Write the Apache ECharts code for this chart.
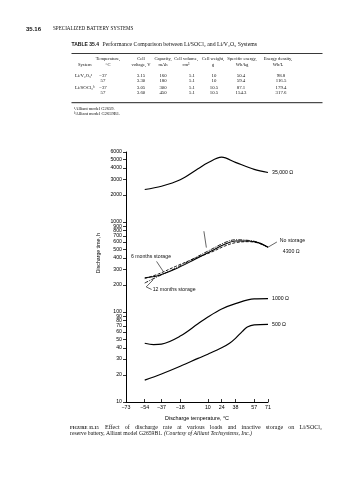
<!DOCTYPE html>
<html><head><meta charset="utf-8">
<script src="https://cdn.jsdelivr.net/npm/echarts@6/dist/echarts.min.js"></script>
<style>html,body{margin:0;padding:0;background:#fff;}#c{width:358px;height:480px;}</style>
</head><body><div id="c"></div>
<script>
// ---------- data ----------
const xTickLabels = [-73, -54, -37, -18, 10, 24, 38, 57, 71];
const yTickLabels = [10,20,30,40,50,60,70,80,90,100,200,300,400,500,600,700,800,900,1000,2000,3000,4000,5000,6000];

const temps35k = [-54, -37, -18, 0, 10, 24, 38, 57, 71];
const hours35k = [2300, 2500, 2950, 3900, 4550, 5250, 4600, 3850, 3550];
const temps1000 = [-54, -45, -37, -18, 0, 10, 24, 38, 57, 71];
const hours1000 = [45, 43.5, 44, 54, 74, 88, 108, 124, 140, 141];
const temps500 = [-54, -37, -18, 0, 10, 24, 32, 38, 45, 50, 57, 71];
const hours500 = [17.5, 20.5, 25, 30.5, 34, 40, 45, 51, 61, 68, 72, 73];
const tempsCluster = [-54, -40, -23, -3, 14, 27, 38, 51, 61, 71];
const hoursNoStorage = [240, 255, 300, 385, 480, 565, 615, 615, 590, 525];
const hours6Months = [235, 265, 320, 395, 465, 540, 590, 605, 585, 525];
const hours12Months = [210, 250, 305, 400, 500, 590, 635, 625, 595, 525];

const curveNames = ['35,000 Ω', '1000 Ω', '500 Ω', 'No storage', '6 months storage', '12 months storage'];

// table
const headerLine1 = ['', 'Temperature,', 'Cell', 'Capacity,', 'Cell volume,', 'Cell weight,', 'Specific energy,', 'Energy density,'];
const headerLine2 = ['System', '°C', 'voltage, V', 'mAh', 'cm³', 'g', 'Wh/kg', 'Wh/L'];
const tableSystems = ['Li/V₂O₅ᵃ', '', 'Li/SOCl₂ᵇ', ''];
const tableTemps = ['−37', '57', '−37', '57'];
const tableVoltage = ['3.15', '3.30', '3.05', '3.60'];
const tableCapacity = [160, 180, 300, 450];
const tableVolume = ['5.1', '5.1', '5.1', '5.1'];
const tableWeight = ['10', '10', '10.5', '10.5'];
const tableSpecEnergy = ['50.4', '59.4', '87.1', '154.3'];
const tableEnergyDensity = ['98.8', '116.5', '179.4', '317.6'];
const footnotes = ['ᵃAlliant model G2659.', 'ᵇAlliant model G2659B1.'];

// annotation anchors (data space)
const annoLeaders = [
  [[-42, 365], [-35, 280]],
  [[-45.5, 228], [-52.5, 190]],
  [[-52.5, 190], [-47, 178]],
  [[6, 790], [8.5, 520]],
  [[71, 525], [80, 600]]
];
const annoTexts = [
  {at: [-68, 412], text: '6 months storage'},
  {at: [-46, 177], text: '12 months storage'},
  {at: [83, 621], text: 'No storage'},
  {at: [86, 468], text: '4300 Ω'}
];

// ---------- chart ----------
const SANS = 'Liberation Sans, Arial, sans-serif';
const SERIF = 'Liberation Serif, Times New Roman, serif';
const zip = (xs, ys) => xs.map((x, i) => [x, ys[i]]);
const chart = echarts.init(document.getElementById('c'), null, {renderer: 'canvas'});

function curve(name, xs, ys, opts) {
  return Object.assign({
    name, type: 'line', data: zip(xs, ys), smooth: 0.35,
    symbol: 'none', clip: false, animation: false,
    lineStyle: {color: '#000', width: 1.2}
  }, opts || {});
}
const endLbl = (txt) => ({show: true, formatter: txt, distance: 4, fontSize: 5.2, fontFamily: SANS, color: '#000'});

const option = {
  animation: false,
  backgroundColor: '#fff',
  grid: {left: 126, right: 90, top: 152, bottom: 78, containLabel: false, outerBoundsMode: 'none'},
  xAxis: {
    type: 'value', min: -73, max: 71,
    splitLine: {show: false},
    axisLine: {onZero: false, lineStyle: {color: '#000', width: 1}},
    axisTick: {inside: true, length: 3, customValues: xTickLabels, lineStyle: {color: '#000', width: 0.8}},
    axisLabel: {customValues: xTickLabels, formatter: v => String(v).replace('-', '−'), fontSize: 5.3, fontFamily: SANS, color: '#000', margin: 3},
    name: 'Discharge temperature, °C', nameLocation: 'middle', nameGap: 14,
    nameTextStyle: {fontSize: 5.4, fontFamily: SANS, color: '#000'}
  },
  yAxis: {
    type: 'log', logBase: 10, min: 10, max: 6000,
    splitLine: {show: false},
    axisLine: {onZero: false, lineStyle: {color: '#000', width: 1}},
    axisTick: {length: 3, customValues: yTickLabels, lineStyle: {color: '#000', width: 0.8}},
    axisLabel: {customValues: yTickLabels, formatter: v => String(Math.round(v)), fontSize: 5.2, fontFamily: SANS, color: '#000', margin: 4},
    name: 'Discharge time, h', nameLocation: 'middle', nameGap: 25, nameRotate: 90,
    nameTextStyle: {fontSize: 5.2, fontFamily: SANS, color: '#000', padding: [0, 0, 0, 48]}
  },
  series: [
    curve(curveNames[0], temps35k, hours35k, {endLabel: endLbl('35,000 Ω')}),
    curve(curveNames[1], temps1000, hours1000, {endLabel: endLbl('1000 Ω')}),
    curve(curveNames[2], temps500, hours500, {endLabel: endLbl('500 Ω')}),
    curve(curveNames[3], tempsCluster, hoursNoStorage, {lineStyle: {color: '#000', width: 1.1}}),
    curve(curveNames[4], tempsCluster, hours6Months, {lineStyle: {color: '#000', width: 0.9, type: [3, 1.5]}}),
    curve(curveNames[5], tempsCluster, hours12Months, {lineStyle: {color: '#000', width: 0.9, type: [4, 1.2, 1, 1.2]}})
  ]
};
chart.setOption(option);

// ---------- page text & annotations ----------
const g = [];
function txt(x, y, text, o) {
  o = o || {};
  g.push({type: 'text', x, y, silent: true, style: {
    text, fill: '#111', fontSize: o.size || 5, fontFamily: o.family || SERIF,
    fontWeight: o.weight || 'normal', fontStyle: o.style || 'normal',
    align: o.align || 'left', verticalAlign: 'middle'
  }});
}
function rule(x1, y1, x2, y2, w) {
  g.push({type: 'line', silent: true, shape: {x1, y1, x2, y2}, style: {stroke: '#222', lineWidth: w || 0.8}});
}
const measureCtx = document.createElement('canvas').getContext('2d');
function justify(x0, x1, y, line, o) {
  const words = line.split(' ');
  measureCtx.font = (o.weight || 'normal') + ' ' + o.size + 'px ' + (o.family || SERIF);
  const widths = words.map(w => measureCtx.measureText(w).width);
  const total = widths.reduce((a, b) => a + b, 0);
  const gap = (x1 - x0 - total) / (words.length - 1);
  let x = x0;
  words.forEach((w, i) => { txt(x, y, w, o); x += widths[i] + gap; });
}
// running head
txt(26, 29, '35.16', {family: SANS, weight: 'bold', size: 6});
txt(53, 29, 'SPECIALIZED BATTERY SYSTEMS', {size: 5.1});
// table title
txt(71.5, 44.3, 'TABLE 35.4', {family: SANS, weight: 'bold', size: 5});
txt(102.5, 44.3, 'Performance Comparison between Li/SOCl₂ and Li/V₂O₅ Systems', {size: 5.8});
rule(71.5, 53.5, 322.5, 53.5, 0.9);
const headX = [78, 108, 141, 163, 186, 213, 242, 278];
const dataX = [75, 103, 141, 163, 192, 214, 241, 281];
headerLine1.forEach((t, i) => { if (t) txt(headX[i], 59, t, {size: 4.6, align: 'center'}); });
headerLine2.forEach((t, i) => txt(headX[i], 65, t, {size: 4.6, align: i === 0 ? 'left' : 'center'}));
const rowY = [75.7, 80.7, 87.7, 92.7];
const cols = [tableTemps, tableVoltage, tableCapacity, tableVolume, tableWeight, tableSpecEnergy, tableEnergyDensity];
rowY.forEach((y, r) => {
  if (tableSystems[r]) txt(dataX[0], y, tableSystems[r], {size: 4.8});
  cols.forEach((c, ci) => txt(dataX[ci + 1], y, String(c[r]), {size: 4.8, align: 'center'}));
});
rule(71.5, 102.7, 322.5, 102.7, 1);
txt(74, 108.7, footnotes[0], {size: 4.5});
txt(74, 113.6, footnotes[1], {size: 4.5});
// caption
txt(70, 427.5, 'FIGURE 35.15', {size: 4.5, weight: 'bold'});
justify(105, 322, 427.5, 'Effect of discharge rate at various loads and inactive storage on Li/SOCl₂', {size: 6.0});
g.push({type: 'text', x: 70, y: 434, silent: true, style: {
  text: 'reserve battery, Alliant model G2659B1. {i|(Courtesy of Alliant Techsystems, Inc.)}',
  fill: '#111', fontSize: 5.7, fontFamily: SERIF, verticalAlign: 'middle',
  rich: {i: {fontStyle: 'italic', fontSize: 5.7, fontFamily: SERIF, fill: '#111'}}
}});
// annotations tied to the chart's scales
const px = (p) => chart.convertToPixel({xAxisIndex: 0, yAxisIndex: 0}, p);
annoLeaders.forEach(seg => {
  const a = px(seg[0]), b = px(seg[1]);
  rule(a[0], a[1], b[0], b[1], 0.7);
});
annoTexts.forEach(t => {
  const p = px(t.at);
  txt(p[0], p[1], t.text, {family: SANS, size: 5.2});
});
chart.setOption({graphic: {elements: g}});
</script>
</body></html>
